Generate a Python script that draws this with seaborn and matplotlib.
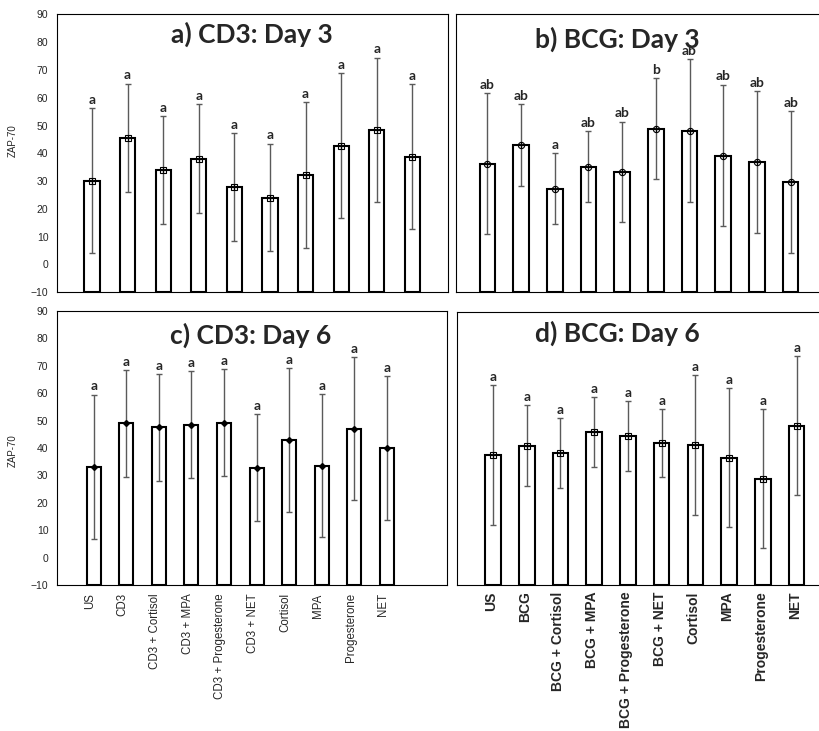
import numpy as np
import matplotlib
matplotlib.use('Agg')
import matplotlib.pyplot as plt
import seaborn as sns

sns.set_style("white")
plt.rcParams['font.family'] = ['Liberation Sans', 'DejaVu Sans']

# categories
labels_cd3 = ['US', 'CD3', 'CD3 + Cortisol', 'CD3 + MPA', 'CD3 + Progesterone',
              'CD3 + NET', 'Cortisol', 'MPA', 'Progesterone', 'NET']
labels_bcg = ['US', 'BCG', 'BCG + Cortisol', 'BCG + MPA', 'BCG + Progesterone',
              'BCG + NET', 'Cortisol', 'MPA', 'Progesterone', 'NET']

# ZAP-70 means and error bar sizes
cd3_day3_mean = [30.2, 45.6, 34.0, 38.1, 28.0, 24.1, 32.3, 42.8, 48.4, 38.8]
cd3_day3_sd = [26.1, 19.5, 19.5, 19.5, 19.4, 19.4, 26.2, 26.2, 26.0, 26.0]
cd3_day3_sig = ['a', 'a', 'a', 'a', 'a', 'a', 'a', 'a', 'a', 'a']

bcg_day3_mean = [36.3, 43.1, 27.2, 35.2, 33.4, 48.9, 48.2, 39.2, 37.0, 29.6]
bcg_day3_sd = [25.5, 14.7, 12.8, 12.8, 18.0, 18.1, 25.6, 25.5, 25.5, 25.5]
bcg_day3_sig = ['ab', 'ab', 'a', 'ab', 'ab', 'b', 'ab', 'ab', 'ab', 'ab']

cd3_day6_mean = [33.2, 49.0, 47.5, 48.5, 49.2, 32.8, 43.0, 33.6, 47.1, 40.1]
cd3_day6_sd = [26.3, 19.5, 19.5, 19.5, 19.5, 19.5, 26.3, 26.2, 26.2, 26.2]
cd3_day6_sig = ['a', 'a', 'a', 'a', 'a', 'a', 'a', 'a', 'a', 'a']

bcg_day6_mean = [37.4, 40.9, 38.2, 46.0, 44.4, 41.8, 41.1, 36.5, 28.8, 48.2]
bcg_day6_sd = [25.5, 14.8, 12.8, 12.8, 12.8, 12.6, 25.7, 25.5, 25.4, 25.5]
bcg_day6_sig = ['a', 'a', 'a', 'a', 'a', 'a', 'a', 'a', 'a', 'a']

Y_MIN, Y_MAX = -10, 90

W, H = 819, 731
fig = plt.figure(figsize=(W / 100, H / 100), dpi=100)


def px_axes(left, top, right, bottom):
    return fig.add_axes([left / W, 1 - bottom / H, (right - left) / W, (bottom - top) / H])


def draw_panel(ax, labels, means, sds, sig, marker, title, title_pos,
               xlim, width, show_y, xlabel_style, tick_shift):
    x = np.arange(len(labels))
    sns.barplot(x=labels, y=means, order=labels, ax=ax, color='white',
                edgecolor='black', linewidth=1.5, width=width, errorbar=None,
                saturation=1)
    # Excel-style bars start at the axis minimum, not at zero
    for bar, m in zip(ax.patches, means):
        bar.set_y(Y_MIN)
        bar.set_height(m - Y_MIN)
    ax.errorbar(x, means, yerr=sds, fmt='none', ecolor='#5a5a5a', elinewidth=1,
                capsize=2.5, capthick=1, zorder=3)
    # markers at the bar tops
    if marker == 'square':
        ax.plot(x, means, ls='none', marker='s', ms=4.5, mfc='none', mec='black', mew=0.8, zorder=4)
        ax.plot(x, means, ls='none', marker='+', ms=4.5, mec='black', mew=0.8, zorder=4)
    elif marker == 'circle':
        ax.plot(x, means, ls='none', marker='o', ms=4.5, mfc='none', mec='black', mew=0.8, zorder=4)
        ax.plot(x, means, ls='none', marker='+', ms=4.5, mec='black', mew=0.8, zorder=4)
    else:
        ax.plot(x, means, ls='none', marker='D', ms=3, mfc='black', mec='black', zorder=4)

    # significance letters
    for xi, m, s, lab in zip(x, means, sds, sig):
        ax.text(xi, m + s + 1.5, lab, ha='center', va='baseline', fontsize=10,
                fontweight='bold', family=['Lato', 'DejaVu Sans'])

    ax.text(title_pos[0], title_pos[1], title, ha='center', va='center', fontsize=19,
            fontweight='bold', family=['Lato', 'DejaVu Sans'])

    ax.set_ylim(Y_MIN, Y_MAX)
    ax.set_xlim(*xlim)
    ax.set_xlabel('')
    ax.tick_params(length=0)
    if show_y:
        ax.set_yticks(np.arange(-10, 91, 10))
        ax.tick_params(axis='y', labelsize=7.5, pad=6)
        ax.set_ylabel('ZAP-70', fontsize=7)
    else:
        ax.set_yticks([])
        ax.set_ylabel('')
    if xlabel_style is None:
        ax.set_xticks([])
    elif xlabel_style == 'bold':
        ax.set_xticks(x - tick_shift, labels, rotation=90, fontsize=10, fontweight='bold')
        ax.tick_params(axis='x', pad=5)
    else:
        ax.set_xticks(x - tick_shift, labels, rotation=90, fontsize=8.3)
        ax.tick_params(axis='x', pad=6)
    for sp in ax.spines.values():
        sp.set_color('black')
        sp.set_linewidth(0.8)


ax_a = px_axes(56.7, 14.3, 448, 292.3)
ax_b = px_axes(455.7, 14.3, 824.3, 292.3)
ax_c = px_axes(56.7, 311, 447, 585)
ax_d = px_axes(456.7, 311.5, 830.4, 584.5)

draw_panel(ax_a, labels_cd3, cd3_day3_mean, cd3_day3_sd, cd3_day3_sig, 'square',
           'a) CD3: Day 3', (4.49, 82.8), (-0.99, 10.0), 0.43, True, None, 0)
draw_panel(ax_b, labels_bcg, bcg_day3_mean, bcg_day3_sd, bcg_day3_sig, 'circle',
           'b) BCG: Day 3', (3.85, 81.0), (-0.94, 10.0), 0.46, False, None, 0)
draw_panel(ax_c, labels_cd3, cd3_day6_mean, cd3_day6_sd, cd3_day6_sig, 'diamond',
           'c) CD3: Day 6', (4.81, 81.2), (-1.135, 10.84), 0.43, True, 'normal', 0.12)
draw_panel(ax_d, labels_bcg, bcg_day6_mean, bcg_day6_sd, bcg_day6_sig, 'square',
           'd) BCG: Day 6', (3.68, 82.1), (-1.076, 10.0), 0.46, False, 'bold', 0.06)

ax_a.yaxis.set_label_coords(-0.10, 0.547)
ax_c.yaxis.set_label_coords(-0.10, 0.49)

plt.savefig('out.png', dpi=100)
